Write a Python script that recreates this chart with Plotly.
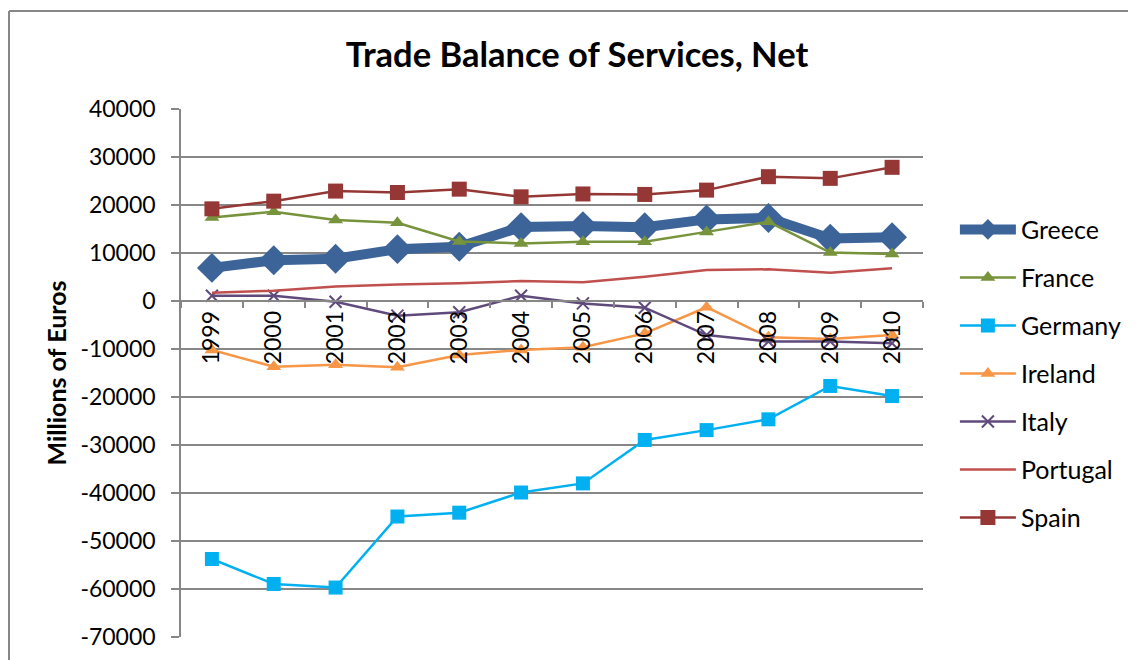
import plotly.graph_objects as go

years = ["1999", "2000", "2001", "2002", "2003", "2004",
         "2005", "2006", "2007", "2008", "2009", "2010"]

greece = [6900, 8500, 8800, 10800, 11300, 15400, 15600, 15350, 17000, 17300, 13000, 13300]
france = [17400, 18600, 16900, 16300, 12400, 12000, 12350, 12350, 14400, 16500, 10100, 9800]
germany = [-53750, -58950, -59700, -44900, -44100, -39900, -38000, -28950, -26900, -24650, -17700, -19800]
ireland = [-10200, -13700, -13300, -13800, -11250, -10200, -9650, -6750, -1300, -7550, -7900, -7100]
italy = [1100, 1100, -150, -3050, -2350, 1100, -500, -1400, -7100, -8450, -8450, -8800]
portugal = [1700, 2150, 3000, 3450, 3700, 4150, 3900, 5050, 6450, 6600, 5900, 6800]
spain = [19200, 20800, 22900, 22600, 23300, 21700, 22300, 22200, 23100, 25900, 25550, 27850]

y_ticks = [40000, 30000, 20000, 10000, 0, -10000, -20000, -30000, -40000, -50000, -60000, -70000]
y_tick_labels = ["40000", "30000", "20000", "10000", "0", "-10000", "-20000",
                 "-30000", "-40000", "-50000", "-60000", "-70000"]

FONT = "Lato"
GRID = "#878787"

# the page body has an 8px margin, so the figure starts 8px in from the window corner
W, H = 1120, 652

fig = go.Figure()

# series, in the order Excel drew them (first one ends up underneath)
series = [
	("Greece", greece, "#3C6499", 10, dict(symbol="diamond", size=23)),
	("France", france, "#77933C", 2.5, dict(symbol="triangle-up", size=13)),
	("Germany", germany, "#00B0F0", 2.5, dict(symbol="square", size=14)),
	("Ireland", ireland, "#F79646", 2.5, dict(symbol="triangle-up", size=13)),
	("Italy", italy, "#604A7B", 2.5, dict(symbol="x-thin-open", size=12, line=dict(width=2))),
	("Portugal", portugal, "#C0504D", 2.5, None),
	("Spain", spain, "#953735", 2.5, dict(symbol="square", size=15)),
]

for name, values, color, width, marker in series:
	if marker is None:
		fig.add_trace(go.Scatter(x=years, y=values, name=name, legendgroup=name,
			mode="lines", line=dict(color=color, width=width)))
	else:
		marker = dict(marker, color=color)
		if "line" in marker:
			marker["line"] = dict(marker["line"], color=color)
		fig.add_trace(go.Scatter(x=years, y=values, name=name, legendgroup=name,
			mode="lines+markers", line=dict(color=color, width=width),
			marker=marker))

# chart-area border: only the left and top edges fall inside the picture
border_left = -172 / 742
border_top = (628 - 2) / 528

fig.update_layout(
	width=W,
	height=H,
	margin=dict(l=173, r=W - 915, t=101, b=H - 629, autoexpand=False),
	paper_bgcolor="white",
	plot_bgcolor="white",
	font=dict(family=FONT, color="black", size=23),
	title=dict(
		text="<b>Trade Balance of Services, Net</b>",
		x=(577 - 8) / W, xanchor="center",
		y=1 - (55 - 8) / H, yanchor="middle",
		font=dict(family=FONT, size=34.5, color="black")
	),
	legend=dict(
		x=1.043, xanchor="left",
		y=0.815, yanchor="top",
		font=dict(family=FONT, size=25, color="black"),
		tracegroupgap=12.5,
		itemwidth=56,
		bgcolor="rgba(0,0,0,0)"
	),
	shapes=[
		dict(type="line", xref="paper", yref="paper",
			x0=border_left, x1=border_left, y0=-0.5, y1=border_top,
			line=dict(color=GRID, width=2), layer="below"),
		dict(type="line", xref="paper", yref="paper",
			x0=border_left, x1=1.5, y0=border_top, y1=border_top,
			line=dict(color=GRID, width=2), layer="below"),
	]
)

# category axis sits on the zero line, like Excel does
fig.update_xaxes(
	type="category",
	range=[-0.5, 11.5],
	anchor="free",
	position=70000 / 110000,
	showline=True, linecolor=GRID, linewidth=1.5,
	showgrid=False,
	ticks="outside", tickson="boundaries", ticklen=6, tickcolor=GRID, tickwidth=1.5,
	tickangle=-90,
	tickfont=dict(family=FONT, size=23, color="black"),
	zeroline=False
)

fig.update_yaxes(
	range=[-70000, 40000],
	tickvals=y_ticks,
	ticktext=y_tick_labels,
	showline=True, linecolor=GRID, linewidth=1.5,
	showgrid=True, gridcolor=GRID, gridwidth=1.5,
	zeroline=False,
	ticks="outside", ticklen=8, tickcolor=GRID, tickwidth=1.5,
	ticklabelstandoff=11,
	tickfont=dict(family=FONT, size=23, color="black"),
	title=dict(text="<b>Millions of Euros</b>", font=dict(family=FONT, size=25, color="black"), standoff=7)
)

fig.write_html("out.html")
